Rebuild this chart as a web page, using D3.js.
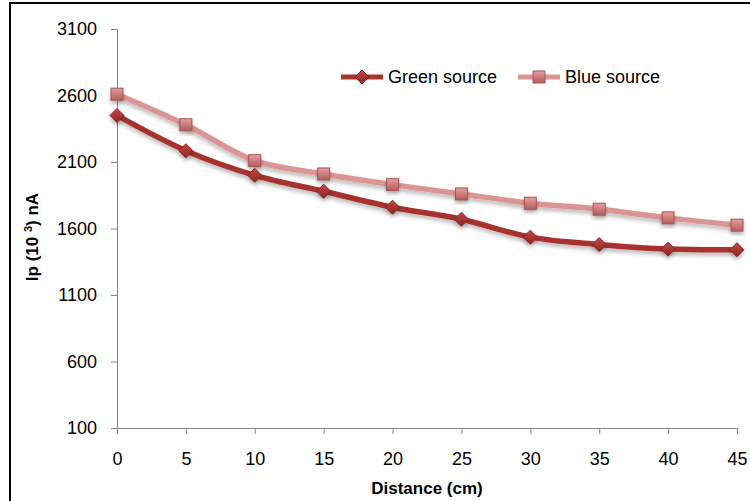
<!DOCTYPE html>
<html>
<head>
<meta charset="utf-8">
<script src="https://cdn.jsdelivr.net/npm/d3@7"></script>
<style>
  body { margin: 0; background: #fff; }
  text { font-family: "Liberation Sans", Arial, sans-serif; fill: #000; }
</style>
</head>
<body>
<div id="chart"></div>
<script>
// Chart data
const distances = [0, 5, 10, 15, 20, 25, 30, 35, 40, 45];
const greenSource = [2450, 2185, 2000, 1880, 1760, 1670, 1535, 1480, 1445, 1440];
const blueSource = [2610, 2380, 2110, 2010, 1930, 1860, 1790, 1745, 1680, 1625];
const yTicks = [100, 600, 1100, 1600, 2100, 2600, 3100];
const xTicks = [0, 5, 10, 15, 20, 25, 30, 35, 40, 45];

const width = 750;
const height = 501;

const svg = d3
  .select("#chart")
  .append("svg")
  .attr("width", width)
  .attr("height", height);

const defs = svg.append("defs");

// soft shadow like the spreadsheet style
const shadow = defs.append("filter").attr("id", "shadow")
  .attr("x", "-20%").attr("y", "-20%").attr("width", "140%").attr("height", "160%");
shadow.append("feDropShadow")
  .attr("dx", 0).attr("dy", 3).attr("stdDeviation", 2)
  .attr("flood-color", "#000").attr("flood-opacity", 0.28);

const gGreen = defs.append("linearGradient").attr("id", "greenGrad")
  .attr("x1", 0).attr("y1", 0).attr("x2", 0).attr("y2", 1);
gGreen.append("stop").attr("offset", "0%").attr("stop-color", "#c24a45");
gGreen.append("stop").attr("offset", "100%").attr("stop-color", "#8e2522");

const gBlue = defs.append("linearGradient").attr("id", "blueGrad")
  .attr("x1", 0).attr("y1", 0).attr("x2", 0).attr("y2", 1);
gBlue.append("stop").attr("offset", "0%").attr("stop-color", "#e5a09f");
gBlue.append("stop").attr("offset", "100%").attr("stop-color", "#b35b5a");

// outer frame
svg.append("rect")
  .attr("x", 10).attr("y", 3)
  .attr("width", 780).attr("height", 560)
  .attr("fill", "none")
  .attr("stroke", "#000")
  .attr("stroke-width", 2);

const x = d3.scaleLinear().domain([0, 45]).range([117, 737]);
const y = d3.scaleLinear().domain([100, 3100]).range([428, 29]);

// y axis
const yAxis = svg.append("g")
  .attr("transform", `translate(${x(0)},0)`)
  .call(d3.axisLeft(y).tickValues(yTicks).tickFormat(d3.format("d")).tickSize(6).tickPadding(14));
yAxis.select(".domain").attr("stroke", "#868686");
yAxis.selectAll(".tick line").attr("stroke", "#868686");
yAxis.selectAll("text")
  .style("font-size", "18px")
  .attr("fill", "#000");

// x axis
const xAxis = svg.append("g")
  .attr("transform", `translate(0,${y(100)})`)
  .call(d3.axisBottom(x).tickValues(xTicks).tickFormat(d3.format("d")).tickSize(6).tickPadding(18));
xAxis.select(".domain").attr("stroke", "#868686");
xAxis.selectAll(".tick line").attr("stroke", "#868686");
xAxis.selectAll("text")
  .style("font-size", "18px")
  .attr("fill", "#000");

// axis titles
svg.append("text")
  .attr("x", 427).attr("y", 494)
  .attr("text-anchor", "middle")
  .style("font-size", "17px")
  .style("font-weight", "bold")
  .text("Distance (cm)");

const yTitle = svg.append("text")
  .attr("transform", "translate(38,237) rotate(-90)")
  .attr("text-anchor", "middle")
  .style("font-size", "17px")
  .style("font-weight", "bold");
yTitle.append("tspan").text("Ip (10 ");
yTitle.append("tspan").attr("dy", -6).style("font-size", "11px").text("3");
yTitle.append("tspan").attr("dy", 6).text(") nA");

// series
const series = [
  { name: "Green source", values: greenSource, color: "#a8332f", marker: "diamond", fill: "url(#greenGrad)" },
  { name: "Blue source", values: blueSource, color: "#db9594", marker: "square", fill: "url(#blueGrad)" },
];

const line = d3.line()
  .x((d) => x(d.x))
  .y((d) => y(d.y))
  .curve(d3.curveCatmullRom.alpha(0.5));

function drawMarker(g, type, fill) {
  if (type === "diamond") {
    g.append("path")
      .attr("d", "M0,-7L7,0L0,7L-7,0Z")
      .attr("fill", fill)
      .attr("stroke", "#8a2320")
      .attr("stroke-width", 1);
  } else {
    g.append("rect")
      .attr("x", -6).attr("y", -6)
      .attr("width", 12).attr("height", 12)
      .attr("fill", fill)
      .attr("stroke", "#a85453")
      .attr("stroke-width", 1);
  }
}

// draw blue first so green sits on top like the original
series.slice().reverse().forEach((s) => {
  const pts = distances.map((d, i) => ({ x: d, y: s.values[i] }));
  svg.append("path")
    .datum(pts)
    .attr("d", line)
    .attr("fill", "none")
    .attr("stroke", s.color)
    .attr("stroke-width", 5.5)
    .attr("stroke-linejoin", "round")
    .attr("filter", "url(#shadow)");

  svg.selectAll(null)
    .data(pts)
    .enter()
    .append("g")
    .attr("transform", (d) => `translate(${x(d.x)},${y(d.y)})`)
    .attr("filter", "url(#shadow)")
    .each(function () {
      drawMarker(d3.select(this), s.marker, s.fill);
    });
});

// legend
const legendItems = [
  { s: series[0], x: 341 },
  { s: series[1], x: 518 },
];
legendItems.forEach((item) => {
  const g = svg.append("g").attr("transform", `translate(${item.x},77)`);
  g.append("line")
    .attr("x1", 0).attr("x2", 42)
    .attr("stroke", item.s.color)
    .attr("stroke-width", 5);
  const m = g.append("g").attr("transform", "translate(21,0)");
  drawMarker(m, item.s.marker, item.s.fill);
  g.append("text")
    .attr("x", 47).attr("y", 6)
    .style("font-size", "18px")
    .text(item.s.name);
});
</script>
</body>
</html>
